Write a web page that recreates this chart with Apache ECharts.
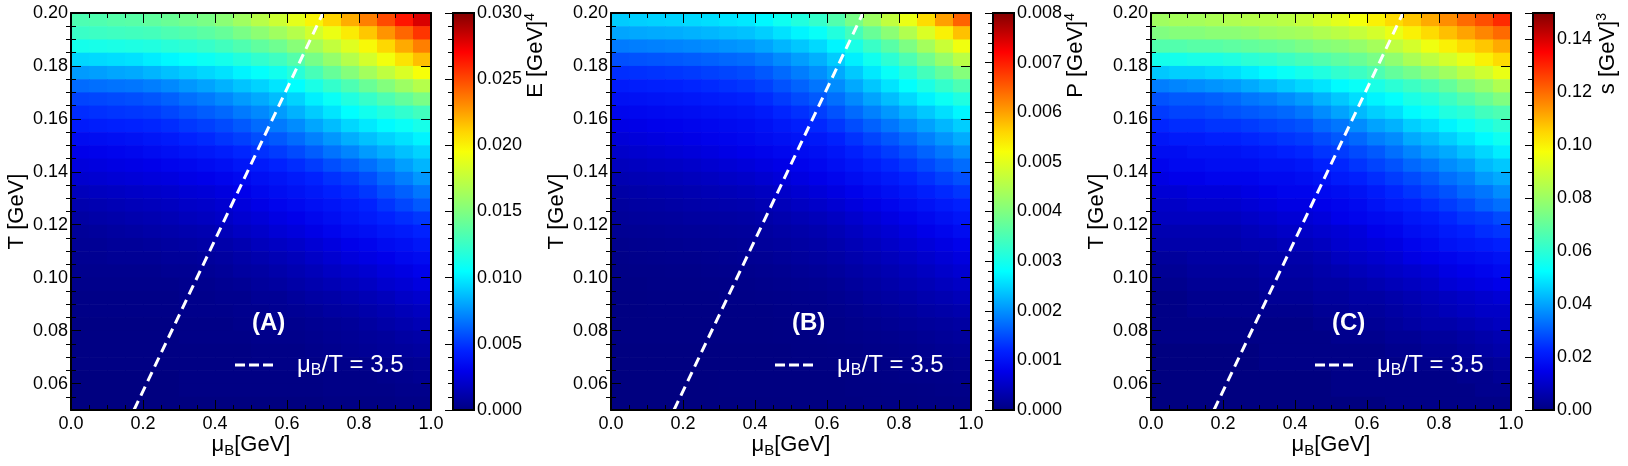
<!DOCTYPE html>
<html>
<head>
<meta charset="utf-8">
<title>HRG E, P, s maps</title>
<script src="https://cdn.jsdelivr.net/npm/echarts@6/dist/echarts.min.js"></script>
<style>
  html, body { margin: 0; padding: 0; background: #fff; }
  #chart { width: 1628px; height: 466px; }
</style>
</head>
<body>
<div id="chart"></div>
<script>
// cell centres of the maps (muB in GeV, T in GeV, top row first)
const MU = [0.025, 0.075, 0.125, 0.175, 0.225, 0.275, 0.325, 0.375, 0.425, 0.475,
  0.525, 0.575, 0.625, 0.675, 0.725, 0.775, 0.825, 0.875, 0.925, 0.975]
const T = [0.1975, 0.1925, 0.1875, 0.1825, 0.1775, 0.1725, 0.1675, 0.1625, 0.1575, 0.1525,
  0.1475, 0.1425, 0.1375, 0.1325, 0.1275, 0.1225, 0.1175, 0.1125, 0.1075, 0.1025,
  0.0975, 0.0925, 0.0875, 0.0825, 0.0775, 0.0725, 0.0675, 0.0625, 0.0575, 0.0525]

// energy density, in 1e-4 GeV^4
const E_GRID = [
  [132, 133, 135, 136, 139, 142, 145, 148, 154, 162, 171, 179, 188, 199, 210, 221, 234, 249, 264, 279],
  [125, 126, 127, 128, 129, 132, 134, 137, 141, 148, 155, 162, 170, 181, 191, 202, 214, 228, 241, 255],
  [112, 113, 114, 115, 116, 119, 121, 124, 128, 133, 139, 144, 153, 164, 175, 186, 197, 209, 222, 234],
  [94, 95, 96, 97, 100, 103, 106, 109, 112, 117, 122, 127, 135, 147, 158, 170, 182, 193, 205, 216],
  [78, 79, 81, 82, 85, 88, 91, 94, 97, 102, 106, 111, 119, 130, 141, 152, 163, 174, 184, 195],
  [65, 66, 67, 68, 70, 73, 77, 80, 84, 89, 93, 98, 105, 114, 123, 132, 142, 151, 161, 170],
  [54, 55, 56, 57, 59, 62, 66, 69, 73, 78, 82, 87, 93, 101, 108, 116, 124, 132, 140, 148],
  [48, 49, 50, 51, 52, 55, 58, 61, 64, 69, 73, 78, 84, 91, 98, 105, 111, 117, 122, 128],
  [42, 43, 44, 45, 46, 48, 51, 53, 56, 60, 65, 69, 74, 81, 87, 94, 99, 104, 108, 113],
  [35, 36, 37, 38, 40, 42, 45, 47, 50, 53, 57, 60, 65, 71, 77, 83, 88, 93, 97, 102],
  [30, 31, 32, 33, 35, 37, 39, 41, 43, 46, 49, 52, 56, 61, 67, 72, 78, 83, 88, 93],
  [26, 27, 28, 29, 30, 32, 33, 35, 37, 40, 42, 45, 48, 52, 57, 61, 66, 72, 79, 85],
  [22, 23, 24, 25, 26, 27, 29, 30, 32, 34, 37, 39, 42, 45, 49, 52, 57, 64, 70, 77],
  [17, 18, 19, 20, 21, 22, 24, 25, 27, 30, 33, 36, 38, 41, 44, 47, 51, 57, 62, 68],
  [13, 14, 15, 16, 17, 18, 20, 21, 23, 26, 29, 32, 34, 37, 39, 42, 45, 50, 55, 60],
  [10, 11, 12, 13, 14, 15, 17, 18, 20, 23, 25, 28, 30, 33, 36, 39, 42, 45, 48, 51],
  [7, 8, 9, 10, 11, 12, 13, 14, 16, 19, 21, 24, 26, 29, 32, 35, 37, 40, 42, 45],
  [6, 6, 7, 7, 8, 9, 10, 11, 12, 14, 17, 19, 21, 24, 27, 30, 32, 35, 37, 40],
  [5, 5, 6, 6, 6, 7, 7, 8, 9, 11, 13, 15, 17, 20, 23, 26, 28, 30, 33, 35],
  [4, 4, 4, 4, 4, 5, 5, 6, 7, 9, 10, 12, 14, 16, 19, 21, 23, 26, 28, 31],
  [3, 3, 3, 3, 3, 3, 4, 4, 5, 6, 8, 9, 11, 13, 15, 17, 19, 22, 24, 27],
  [2, 2, 2, 2, 2, 2, 3, 3, 4, 4, 6, 6, 8, 10, 11, 13, 15, 17, 20, 22],
  [2, 2, 2, 2, 2, 2, 3, 3, 3, 4, 4, 5, 6, 7, 9, 10, 12, 14, 16, 18],
  [1, 1, 1, 1, 1, 1, 2, 2, 2, 3, 3, 4, 4, 5, 6, 7, 9, 11, 13, 15],
  [1, 1, 1, 1, 1, 1, 2, 2, 2, 2, 3, 3, 3, 4, 5, 6, 7, 8, 10, 11],
  [1, 1, 1, 1, 1, 1, 1, 1, 1, 1, 2, 2, 2, 3, 4, 5, 6, 7, 8, 9],
  [1, 1, 1, 1, 1, 1, 1, 1, 1, 1, 2, 2, 2, 2, 3, 3, 3, 4, 5, 6],
  [0, 0, 0, 0, 0, 0, 1, 1, 1, 1, 1, 1, 1, 1, 2, 2, 2, 3, 4, 5],
  [0, 0, 0, 0, 0, 0, 1, 1, 1, 1, 1, 1, 1, 1, 2, 2, 2, 2, 3, 3],
  [0, 0, 0, 0, 0, 0, 0, 0, 0, 0, 0, 0, 0, 0, 1, 1, 1, 1, 2, 2],
]

// pressure, in 1e-5 GeV^4
const P_GRID = [
  [243, 245, 247, 249, 252, 256, 260, 264, 275, 293, 311, 329, 356, 393, 429, 466, 507, 553, 599, 645],
  [215, 217, 219, 221, 224, 228, 232, 236, 245, 259, 273, 287, 311, 344, 378, 411, 449, 491, 533, 575],
  [185, 187, 189, 191, 194, 198, 202, 206, 214, 227, 239, 252, 273, 303, 333, 363, 397, 436, 474, 513],
  [153, 155, 157, 159, 162, 166, 170, 174, 183, 196, 210, 223, 243, 269, 295, 321, 352, 387, 423, 458],
  [129, 131, 133, 135, 138, 142, 146, 150, 159, 172, 186, 199, 218, 241, 264, 287, 313, 344, 374, 405],
  [113, 115, 117, 119, 122, 126, 130, 134, 142, 155, 167, 180, 197, 218, 239, 260, 282, 305, 329, 352],
  [99, 101, 103, 105, 108, 112, 115, 119, 127, 138, 149, 160, 176, 195, 214, 233, 252, 271, 290, 309],
  [87, 89, 91, 93, 96, 99, 102, 105, 112, 122, 131, 141, 155, 172, 189, 206, 223, 240, 257, 274],
  [76, 78, 81, 83, 86, 89, 92, 95, 101, 109, 116, 124, 136, 151, 166, 181, 196, 212, 228, 244],
  [66, 69, 72, 75, 78, 82, 85, 89, 94, 99, 104, 109, 119, 132, 145, 158, 172, 188, 204, 220],
  [56, 59, 62, 65, 68, 72, 76, 80, 84, 89, 93, 98, 106, 117, 128, 139, 152, 167, 182, 197],
  [46, 48, 51, 53, 56, 60, 64, 68, 73, 78, 84, 89, 97, 106, 115, 124, 135, 148, 161, 174],
  [37, 39, 41, 43, 46, 49, 53, 56, 61, 67, 73, 79, 86, 94, 102, 110, 120, 131, 142, 153],
  [29, 31, 33, 35, 37, 40, 42, 45, 49, 55, 61, 67, 74, 82, 90, 98, 107, 116, 125, 134],
  [23, 25, 26, 28, 30, 32, 33, 35, 39, 44, 50, 55, 62, 70, 78, 86, 94, 102, 110, 118],
  [19, 20, 21, 22, 24, 25, 26, 27, 30, 35, 39, 44, 50, 58, 66, 74, 82, 90, 98, 106],
  [14, 15, 16, 17, 18, 19, 20, 21, 24, 28, 31, 35, 41, 48, 56, 63, 71, 79, 86, 94],
  [10, 11, 12, 13, 14, 15, 16, 17, 20, 23, 26, 29, 34, 41, 47, 54, 61, 68, 75, 82],
  [7, 8, 9, 10, 10, 11, 13, 14, 15, 18, 21, 24, 28, 34, 39, 45, 51, 58, 65, 72],
  [5, 6, 6, 7, 7, 8, 9, 10, 11, 13, 16, 18, 22, 27, 32, 37, 43, 49, 56, 62],
  [4, 4, 5, 5, 5, 6, 6, 7, 8, 10, 11, 13, 16, 21, 26, 31, 36, 41, 47, 52],
  [3, 3, 4, 4, 4, 4, 5, 5, 6, 7, 8, 9, 12, 16, 21, 25, 29, 34, 38, 43],
  [2, 2, 3, 3, 3, 3, 4, 4, 4, 5, 6, 7, 9, 12, 16, 19, 23, 27, 30, 34],
  [2, 2, 2, 2, 2, 2, 3, 3, 3, 4, 4, 5, 6, 9, 11, 14, 17, 20, 23, 26],
  [2, 2, 2, 2, 2, 2, 2, 2, 2, 3, 3, 4, 5, 7, 8, 10, 12, 15, 18, 21],
  [1, 1, 1, 1, 1, 1, 1, 1, 1, 1, 2, 2, 3, 4, 6, 7, 9, 11, 14, 16],
  [1, 1, 1, 1, 1, 1, 1, 1, 1, 1, 2, 2, 2, 3, 4, 5, 6, 8, 9, 11],
  [0, 0, 0, 0, 0, 0, 1, 1, 1, 1, 1, 1, 1, 2, 3, 4, 5, 6, 7, 8],
  [0, 0, 0, 0, 0, 0, 1, 1, 1, 1, 1, 1, 1, 2, 2, 3, 3, 4, 5, 6],
  [0, 0, 0, 0, 0, 0, 0, 0, 0, 0, 1, 1, 1, 1, 2, 2, 2, 3, 3, 4],
]

// entropy density, in 1e-3 GeV^3
const S_GRID = [
  [81, 82, 82, 83, 84, 85, 85, 86, 88, 91, 94, 97, 100, 104, 107, 111, 115, 120, 124, 129],
  [75, 76, 76, 77, 77, 78, 80, 81, 82, 84, 86, 88, 91, 95, 100, 104, 108, 112, 116, 120],
  [67, 67, 68, 68, 69, 70, 71, 72, 74, 76, 77, 79, 82, 87, 91, 96, 100, 104, 107, 111],
  [56, 56, 57, 57, 58, 60, 61, 63, 65, 67, 69, 71, 74, 78, 83, 87, 91, 95, 100, 104],
  [45, 46, 46, 47, 48, 50, 52, 54, 56, 58, 61, 63, 66, 70, 73, 77, 81, 86, 90, 95],
  [35, 36, 37, 38, 39, 41, 43, 45, 47, 49, 52, 54, 57, 60, 63, 66, 70, 75, 79, 84],
  [29, 30, 30, 31, 32, 34, 35, 37, 39, 42, 45, 48, 51, 53, 57, 59, 63, 67, 71, 75],
  [26, 27, 27, 28, 29, 30, 31, 32, 34, 37, 40, 43, 46, 48, 52, 54, 58, 60, 64, 66],
  [23, 24, 24, 25, 25, 26, 27, 28, 29, 32, 34, 37, 40, 42, 46, 48, 51, 54, 57, 60],
  [20, 21, 21, 22, 22, 23, 24, 25, 26, 28, 30, 32, 35, 37, 41, 43, 46, 49, 52, 55],
  [18, 18, 19, 19, 19, 20, 21, 22, 23, 25, 26, 28, 30, 33, 36, 39, 41, 44, 47, 50],
  [16, 17, 17, 18, 18, 18, 19, 19, 20, 22, 23, 25, 27, 29, 32, 34, 37, 39, 43, 45],
  [14, 15, 15, 16, 16, 16, 17, 17, 18, 19, 21, 22, 24, 26, 28, 30, 33, 35, 39, 41],
  [12, 12, 13, 13, 13, 14, 15, 16, 16, 17, 18, 19, 21, 23, 25, 27, 29, 32, 34, 37],
  [10, 10, 11, 11, 11, 12, 13, 14, 14, 15, 16, 17, 19, 21, 22, 24, 26, 28, 31, 33],
  [9, 9, 9, 9, 9, 10, 11, 12, 12, 13, 15, 16, 17, 18, 20, 21, 23, 25, 26, 28],
  [7, 7, 7, 7, 7, 8, 9, 10, 10, 11, 12, 13, 15, 16, 18, 19, 21, 22, 24, 25],
  [6, 6, 6, 6, 6, 7, 7, 8, 8, 9, 11, 12, 13, 14, 16, 17, 19, 20, 21, 22],
  [4, 4, 5, 5, 5, 5, 6, 6, 6, 7, 9, 10, 11, 12, 14, 15, 16, 17, 18, 19],
  [3, 3, 4, 4, 4, 4, 5, 5, 5, 6, 7, 8, 9, 10, 11, 12, 14, 15, 16, 17],
  [2, 2, 3, 3, 3, 3, 4, 4, 4, 5, 5, 6, 7, 8, 9, 10, 12, 13, 14, 15],
  [1, 1, 2, 2, 2, 2, 3, 3, 3, 4, 4, 5, 5, 6, 7, 8, 9, 10, 11, 12],
  [1, 1, 2, 2, 2, 2, 2, 2, 2, 3, 3, 4, 4, 5, 6, 7, 8, 9, 10, 10],
  [1, 1, 1, 1, 1, 1, 1, 1, 1, 2, 2, 3, 3, 4, 5, 6, 6, 7, 8, 9],
  [1, 1, 1, 1, 1, 1, 1, 1, 1, 1, 2, 2, 2, 3, 3, 4, 4, 5, 6, 7],
  [0, 0, 0, 0, 0, 0, 1, 1, 1, 1, 1, 1, 1, 2, 2, 3, 3, 4, 5, 6],
  [0, 0, 0, 0, 0, 0, 1, 1, 1, 1, 1, 1, 1, 1, 2, 2, 2, 3, 3, 4],
  [0, 0, 0, 0, 0, 0, 0, 0, 0, 0, 1, 1, 1, 1, 1, 1, 1, 2, 2, 3],
  [0, 0, 0, 0, 0, 0, 0, 0, 0, 0, 1, 1, 1, 1, 1, 1, 1, 1, 2, 2],
  [0, 0, 0, 0, 0, 0, 0, 0, 0, 0, 0, 0, 0, 1, 1, 1, 1, 1, 1, 1],
]

// muB / T = 3.5 line end points
const RATIO_MU = [0.175, 0.7]
const RATIO_T = [0.05, 0.2]

// tick positions of the T axis
const T_TICKS = [0.06, 0.08, 0.10, 0.12, 0.14, 0.16, 0.18, 0.20]
const T_MINOR = [0.055, 0.065, 0.07, 0.075, 0.085, 0.09, 0.095, 0.105, 0.11, 0.115, 0.125,
  0.13, 0.135, 0.145, 0.15, 0.155, 0.165, 0.17, 0.175, 0.185, 0.19, 0.195]

// jet-like palette, evenly spaced from low to high
const PALETTE = ['#000080', '#0000b5', '#0000ea', '#0021ff', '#0059ff', '#0090ff', '#00c8ff',
  '#00ffff', '#2bffd5', '#55ffaa', '#80ff80', '#a8ff58', '#cfff30', '#f7ff08', '#ffd500',
  '#ff9f00', '#ff6a00', '#ff3500', '#ff0000', '#bf0000', '#800000']

const PANELS = [
  { grid: E_GRID, unit: 1e-4, max: 0.03, step: 0.005, minor: 5, digits: 3, tag: '(A)', qty: 'E', power: '4', titleX: 536 },
  { grid: P_GRID, unit: 1e-5, max: 0.008, step: 0.001, minor: 5, digits: 3, tag: '(B)', qty: 'P', power: '4', titleX: 1076 },
  { grid: S_GRID, unit: 1e-3, max: 0.15, step: 0.02, minor: 4, digits: 2, tag: '(C)', qty: 's', power: '3', titleX: 1608 },
]

const FONT = 'Liberation Sans, Arial, Helvetica, sans-serif'
const PANEL_STEP = 540
const PLOT_LEFT = 71
const PLOT_TOP = 13
const PLOT_W = 360
const PLOT_H = 397
const BAR_LEFT = 453
const BAR_W = 21
const DASH_ICON = 'path://M0,0H10V3H0Z M14,0H24V3H14Z M28,0H38V3H28Z'

const halfMu = (MU[1] - MU[0]) / 2
const halfT = (T[0] - T[1]) / 2

const toCells = (grid, unit) => {
  const out = []
  T.forEach((t, i) => {
    MU.forEach((m, j) => {
      out.push([m, t, grid[i][j] * unit])
    })
  })
  return out
}

const renderCell = (params, api) => {
  const a = api.coord([api.value(0) - halfMu, api.value(1) + halfT])
  const b = api.coord([api.value(0) + halfMu, api.value(1) - halfT])
  return {
    type: 'rect',
    shape: { x: a[0], y: a[1], width: b[0] - a[0] + 0.6, height: b[1] - a[1] + 0.6 },
    style: { fill: api.visual('color') },
  }
}

const barGradient = () => new echarts.graphic.LinearGradient(0, 1, 0, 0,
  PALETTE.map((c, k) => ({ offset: k / (PALETTE.length - 1), color: c })))

const tickLine = { color: '#000', width: 1 }
const frameLine = { show: true, onZero: false, lineStyle: { color: '#000', width: 2 } }

const AXIS_RICH = {
  mu: { fontSize: 22, lineHeight: 26, fontFamily: FONT, color: '#000' },
  sub: { fontSize: 15, verticalAlign: 'bottom', fontFamily: FONT, color: '#000' },
  n: { fontSize: 22, lineHeight: 26, fontFamily: FONT, color: '#000' },
}
const LEGEND_RICH = {
  mu: { fontSize: 24, lineHeight: 28, fontFamily: FONT, color: '#fff', padding: [0, 0, 0, 19] },
  sub: { fontSize: 16, verticalAlign: 'bottom', fontFamily: FONT, color: '#fff' },
  n: { fontSize: 24, lineHeight: 28, fontFamily: FONT, color: '#fff' },
}

const grid = []
const xAxis = []
const yAxis = []
const series = []

PANELS.forEach((p, i) => {
  grid.push({ left: PLOT_LEFT + i * PANEL_STEP, top: PLOT_TOP, width: PLOT_W, height: PLOT_H, outerBoundsMode: 'none' })

  const xBase = {
    type: 'value', gridIndex: i, min: 0, max: 1, interval: 0.2, z: 10,
    axisLine: frameLine,
    axisTick: { show: true, inside: true, length: 10, lineStyle: tickLine },
    minorTick: { show: true, splitNumber: 4, length: 5, lineStyle: tickLine },
    splitLine: { show: false },
    nameMoveOverlap: false,
  }
  xAxis.push({
    ...xBase, position: 'bottom',
    axisLabel: { show: true, color: '#000', fontSize: 18, fontFamily: FONT, margin: 5, formatter: (v) => v.toFixed(1) },
    name: '{mu|μ}{sub|B}{n|[GeV]}', nameLocation: 'middle', nameGap: 22,
    nameTextStyle: { color: '#000', fontSize: 22, fontFamily: FONT, rich: AXIS_RICH },
  })
  xAxis.push({ ...xBase, position: 'top', axisLabel: { show: false } })

  const yBase = { type: 'value', gridIndex: i, min: 0.05, max: 0.2, z: 10, splitLine: { show: false }, nameMoveOverlap: false }
  yAxis.push({
    ...yBase, position: 'left', axisLine: frameLine,
    axisTick: { show: true, inside: true, length: 10, customValues: T_TICKS, lineStyle: tickLine },
    axisLabel: { show: true, customValues: T_TICKS, color: '#000', fontSize: 18, fontFamily: FONT, margin: 3, formatter: (v) => v.toFixed(2) },
    name: 'T [GeV]', nameLocation: 'middle', nameGap: 43,
    nameTextStyle: { color: '#000', fontSize: 22, fontFamily: FONT },
  })
  yAxis.push({
    ...yBase, position: 'left', axisLine: { show: false },
    axisTick: { show: true, inside: true, length: 5, customValues: T_MINOR, lineStyle: tickLine },
    axisLabel: { show: false },
  })
  yAxis.push({
    ...yBase, position: 'right', axisLine: frameLine,
    axisTick: { show: true, inside: true, length: 10, customValues: T_TICKS, lineStyle: tickLine },
    axisLabel: { show: false },
  })
  yAxis.push({
    ...yBase, position: 'right', axisLine: { show: false },
    axisTick: { show: true, inside: true, length: 5, customValues: T_MINOR, lineStyle: tickLine },
    axisLabel: { show: false },
  })

  series.push({
    type: 'custom',
    xAxisIndex: 2 * i,
    yAxisIndex: 4 * i,
    dimensions: ['mu', 'T', 'value'],
    encode: { x: 0, y: 1 },
    data: toCells(p.grid, p.unit),
    renderItem: renderCell,
    silent: true,
    z: 2,
  })
})

// colour bars
PANELS.forEach((p, i) => {
  grid.push({
    left: BAR_LEFT + i * PANEL_STEP, top: PLOT_TOP, width: BAR_W, height: PLOT_H,
    show: true, backgroundColor: barGradient(), borderColor: '#000', borderWidth: 2,
    outerBoundsMode: 'none',
  })
  xAxis.push({ type: 'value', gridIndex: 3 + i, show: false, min: 0, max: 1 })
  yAxis.push({
    type: 'value', gridIndex: 3 + i, position: 'right', min: 0, max: p.max, interval: p.step, z: 10,
    axisLine: { show: false },
    axisTick: { show: true, inside: true, length: 8, lineStyle: tickLine },
    minorTick: { show: true, splitNumber: p.minor, length: 5, lineStyle: tickLine },
    splitLine: { show: false },
    axisLabel: {
      color: '#000', fontSize: 18, fontFamily: FONT, margin: 3,
      showMaxLabel: i !== 2,
      formatter: (v) => v.toFixed(p.digits),
    },
  })
})

PANELS.forEach((p, i) => {
  series.push({
    type: 'line',
    name: 'ratio' + i,
    xAxisIndex: 2 * i,
    yAxisIndex: 4 * i,
    data: RATIO_MU.map((m, k) => [m, RATIO_T[k]]),
    symbol: 'none',
    color: '#fff',
    itemStyle: { color: '#fff' },
    lineStyle: { color: '#fff', width: 3, type: [10, 6] },
    silent: true,
    z: 3,
  })
})

const option = {
  animation: false,
  backgroundColor: '#fff',
  textStyle: { fontFamily: FONT },
  grid,
  xAxis,
  yAxis,
  series,
  visualMap: PANELS.map((p, i) => ({
    type: 'continuous', show: false, seriesIndex: i, dimension: 2,
    min: 0, max: p.max, inRange: { color: PALETTE },
  })),
  title: PANELS.map((p, i) => ({
    text: p.tag, left: 252 + i * PANEL_STEP, top: 311, padding: 0,
    textStyle: { color: '#fff', fontSize: 24, fontWeight: 'bold', fontFamily: FONT },
  })),
  legend: PANELS.map((p, i) => ({
    data: ['ratio' + i],
    left: 235 + i * PANEL_STEP, top: 353, padding: 0,
    itemWidth: 38, itemHeight: 3, icon: DASH_ICON,
    itemStyle: { color: '#fff' },
    selectedMode: false,
    formatter: () => '{mu|μ}{sub|B}{n|/T = 3.5}',
    textStyle: { color: '#fff', fontSize: 24, fontFamily: FONT, rich: LEGEND_RICH },
  })),
  graphic: PANELS.map((p) => ({
    type: 'text',
    x: p.titleX,
    y: 13,
    rotation: Math.PI / 2,
    style: {
      text: '{n|' + p.qty + ' [GeV]}{sup|' + p.power + '}',
      fill: '#000',
      fontSize: 22,
      fontFamily: FONT,
      align: 'right',
      verticalAlign: 'middle',
      rich: {
        n: { fontSize: 22, lineHeight: 26, fontFamily: FONT, fill: '#000' },
        sup: { fontSize: 14, verticalAlign: 'top', fontFamily: FONT, fill: '#000' },
      },
    },
  })),
}

const chart = echarts.init(document.getElementById('chart'), null, { renderer: 'canvas' })
chart.setOption(option)
</script>
</body>
</html>
